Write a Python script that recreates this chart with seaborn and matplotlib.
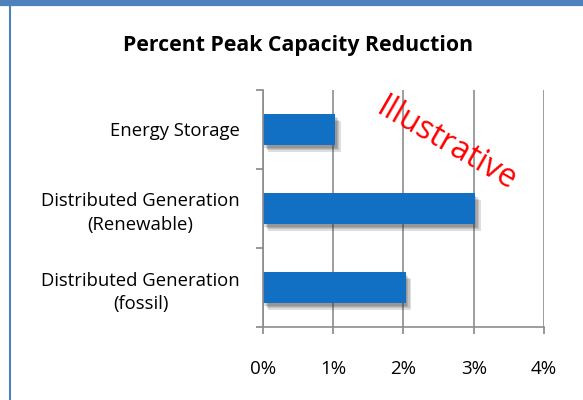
import numpy as np
import pandas as pd
import matplotlib
matplotlib.use("Agg")
import matplotlib.pyplot as plt
import matplotlib.patheffects as pe
from matplotlib.lines import Line2D
import seaborn as sns

categories = ["Energy Storage", "Distributed Generation\n(Renewable)", "Distributed Generation\n(fossil)"]
reduction_pct = [1.03, 3.02, 2.03]
xtick_values = [0, 1, 2, 3, 4]
xtick_labels = ["0%", "1%", "2%", "3%", "4%"]

df = pd.DataFrame({"category": categories, "reduction": reduction_pct})

sns.set_style("white")
plt.rcParams["font.family"] = ["Open Sans", "DejaVu Sans"]
plt.rcParams["text.color"] = "black"
plt.rcParams["xtick.color"] = "black"
plt.rcParams["ytick.color"] = "black"

fig = plt.figure(figsize=(5.83, 4.0), dpi=100)
ax = fig.add_axes([0.451, 0.1825, 0.482, 0.5925])

sns.barplot(data=df, x="reduction", y="category", orient="h", color="#1170C4",
            saturation=1, width=0.39, ax=ax)

# soft drop shadow like the office chart
shadow_layers = [pe.SimplePatchShadow(offset=(d, -d - 1), shadow_rgbFace="#333333", alpha=0.16)
                 for d in (1, 2, 3, 4)]
for bar in ax.patches:
    bar.set_edgecolor("none")
    bar.set_path_effects(shadow_layers + [pe.Normal()])

ax.set_xlim(0, 4)
ax.set_ylim(2.5, -0.5)
ax.set_xticks(xtick_values)
ax.set_xticklabels(xtick_labels, fontsize=13.5)
ax.set_xlabel("")
ax.set_ylabel("")
ax.tick_params(axis="y", length=0, pad=16.5, labelsize=13.3)
ax.set_yticks([-0.5, 0.5, 1.5, 2.5], minor=True)
ax.tick_params(axis="y", which="minor", length=5, color="#888888", width=1.2, direction="out", left=True)
ax.tick_params(axis="x", length=5, color="#888888", width=1.2, direction="out", bottom=True, pad=19)
for lbl in ax.get_yticklabels():
    lbl.set_horizontalalignment("right")
    lbl.set_multialignment("center")
    lbl.set_linespacing(1.4)

ax.grid(axis="x", color="#8c8c8c", linewidth=1.2)
ax.set_axisbelow(True)
for side in ["top", "right"]:
    ax.spines[side].set_visible(False)
for side in ["left", "bottom"]:
    ax.spines[side].set_color("#8c8c8c")
    ax.spines[side].set_linewidth(1.2)

fig.text(0.512, 0.886, "Percent Peak Capacity Reduction", ha="center", va="center",
         fontsize=15.3, fontweight="bold")

ax.text(0.655, 0.768, "Illustrative", transform=ax.transAxes, rotation=-30,
        ha="center", va="center", color="red", fontsize=23, rotation_mode="anchor")

# blue frame (top and left edges)
fig.add_artist(Line2D([0, 1], [0.993, 0.993], transform=fig.transFigure, color="#4F81BD", linewidth=4.5))
fig.add_artist(Line2D([0.018, 0.018], [0, 1], transform=fig.transFigure, color="#4F81BD", linewidth=1.5))

fig.savefig("out.png", dpi=100)
